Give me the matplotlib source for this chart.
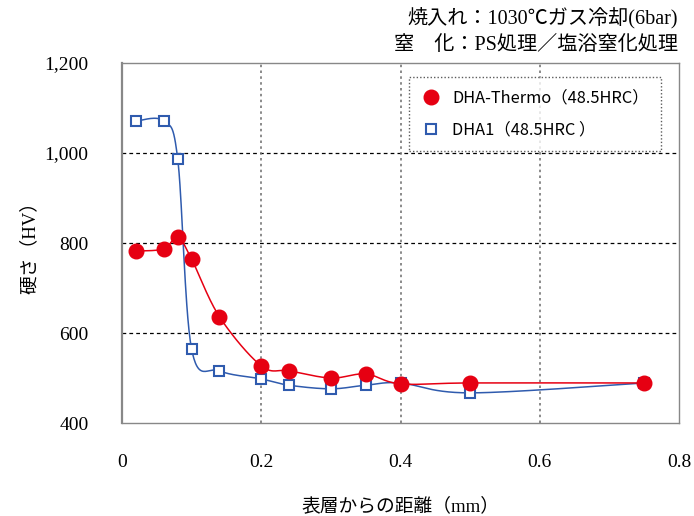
import numpy as np
import matplotlib
matplotlib.use("Agg")
import matplotlib.pyplot as plt
from matplotlib.lines import Line2D

plt.rcParams['font.family'] = ['Liberation Serif', 'Noto Sans CJK JP']

# depth from surface (mm)
thermo_x = [0.02, 0.06, 0.08, 0.10, 0.14, 0.20, 0.24, 0.30, 0.35, 0.40, 0.50, 0.75]
thermo_hv = [782, 787, 813, 764, 636, 527, 516, 500, 509, 487, 489, 489]
dha1_x = [0.02, 0.06, 0.08, 0.10, 0.14, 0.20, 0.24, 0.30, 0.35, 0.40, 0.50, 0.75]
dha1_hv = [1071, 1071, 987, 564, 516, 498, 484, 476, 484, 489, 467, 489]

y_ticks = [400, 600, 800, 1000, 1200]
y_ticklabels = ["400", "600", "800", "1,000", "1,200"]
x_ticks = [0, 0.2, 0.4, 0.6, 0.8]
x_ticklabels = ["0", "0.2", "0.4", "0.6", "0.8"]

RED = "#E60012"
BLUE = "#2F5BAE"


def smooth(xs, ys, n=30):
    # excel-like smoothed line (catmull-rom through the points)
    p = np.column_stack([xs, ys]).astype(float)
    p = np.vstack([p[0], p, p[-1]])
    out = []
    t = np.linspace(0, 1, n)[:, None]
    for i in range(1, len(p) - 2):
        p0, p1, p2, p3 = p[i - 1], p[i], p[i + 1], p[i + 2]
        c1 = p1 + (p2 - p0) / 6
        c2 = p2 - (p3 - p1) / 6
        seg = ((1 - t) ** 3) * p1 + 3 * ((1 - t) ** 2) * t * c1 + 3 * (1 - t) * t ** 2 * c2 + t ** 3 * p2
        out.append(seg)
    out = np.vstack(out)
    return out[:, 0], out[:, 1]


fig = plt.figure(figsize=(6.94, 5.16), dpi=100)
ax = fig.add_axes([0.1758, 0.1802, 0.8026, 0.6977])

sx, sy = smooth(dha1_x, dha1_hv)
ax.plot(sx, sy, color=BLUE, lw=1.1, zorder=3)
sx, sy = smooth(thermo_x, thermo_hv)
ax.plot(sx, sy, color=RED, lw=1.1, zorder=4)

ax.plot(dha1_x, dha1_hv, ls="none", marker="s", ms=7.5, mfc="white", mec=BLUE, mew=1.5, zorder=5)
ax.plot(thermo_x, thermo_hv, ls="none", marker="o", ms=10.5, mfc=RED, mec=RED, zorder=6)

ax.set_xlim(0, 0.8)
ax.set_ylim(400, 1200)
ax.set_xticks(x_ticks)
ax.set_xticklabels(x_ticklabels)
ax.set_yticks(y_ticks)
ax.set_yticklabels(y_ticklabels)
ax.tick_params(length=0, labelsize=14)
ax.tick_params(axis="x", pad=22)
ax.tick_params(axis="y", pad=24)

for v in [600, 800, 1000]:
    ax.axhline(v, color="black", lw=0.9, ls=(0, (3, 2.5)), zorder=1)
for v in [0.2, 0.4, 0.6]:
    ax.axvline(v, color="#777777", lw=1.2, ls=(0, (1.5, 2)), zorder=1)

for s in ax.spines.values():
    s.set_color("#888888")
    s.set_linewidth(1.0)
ax.spines["left"].set_linewidth(1.6)

ax.set_xlabel("表層からの距離（mm）", fontsize=13.5, labelpad=19)
ax.set_ylabel("硬さ（HV）", fontsize=13.5, labelpad=4)

handles = [
    Line2D([], [], ls="none", marker="o", ms=10.5, mfc=RED, mec=RED),
    Line2D([], [], ls="none", marker="s", ms=7.5, mfc="white", mec=BLUE, mew=1.5),
]
leg = ax.legend(handles, ["DHA-Thermo（48.5HRC）", "DHA1（48.5HRC ）"],
                loc="upper right", bbox_to_anchor=(0.968, 0.96), frameon=True,
                fancybox=False, prop={"family": ["Noto Sans CJK JP"], "size": 11.8},
                handletextpad=0.7, labelspacing=0.9, borderpad=0.75, handlelength=1.2,
                borderaxespad=0)
leg.get_frame().set_edgecolor("#333333")
leg.get_frame().set_linestyle((0, (1, 1.5)))
leg.get_frame().set_linewidth(1.0)

fig.text(0.977, 0.965, "焼入れ：1030℃ガス冷却(6bar)", ha="right", va="center", fontsize=14.5)
fig.text(0.977, 0.911, "窒　化：PS処理／塩浴窒化処理", ha="right", va="center", fontsize=14.5)

fig.savefig("out.png", dpi=100)
